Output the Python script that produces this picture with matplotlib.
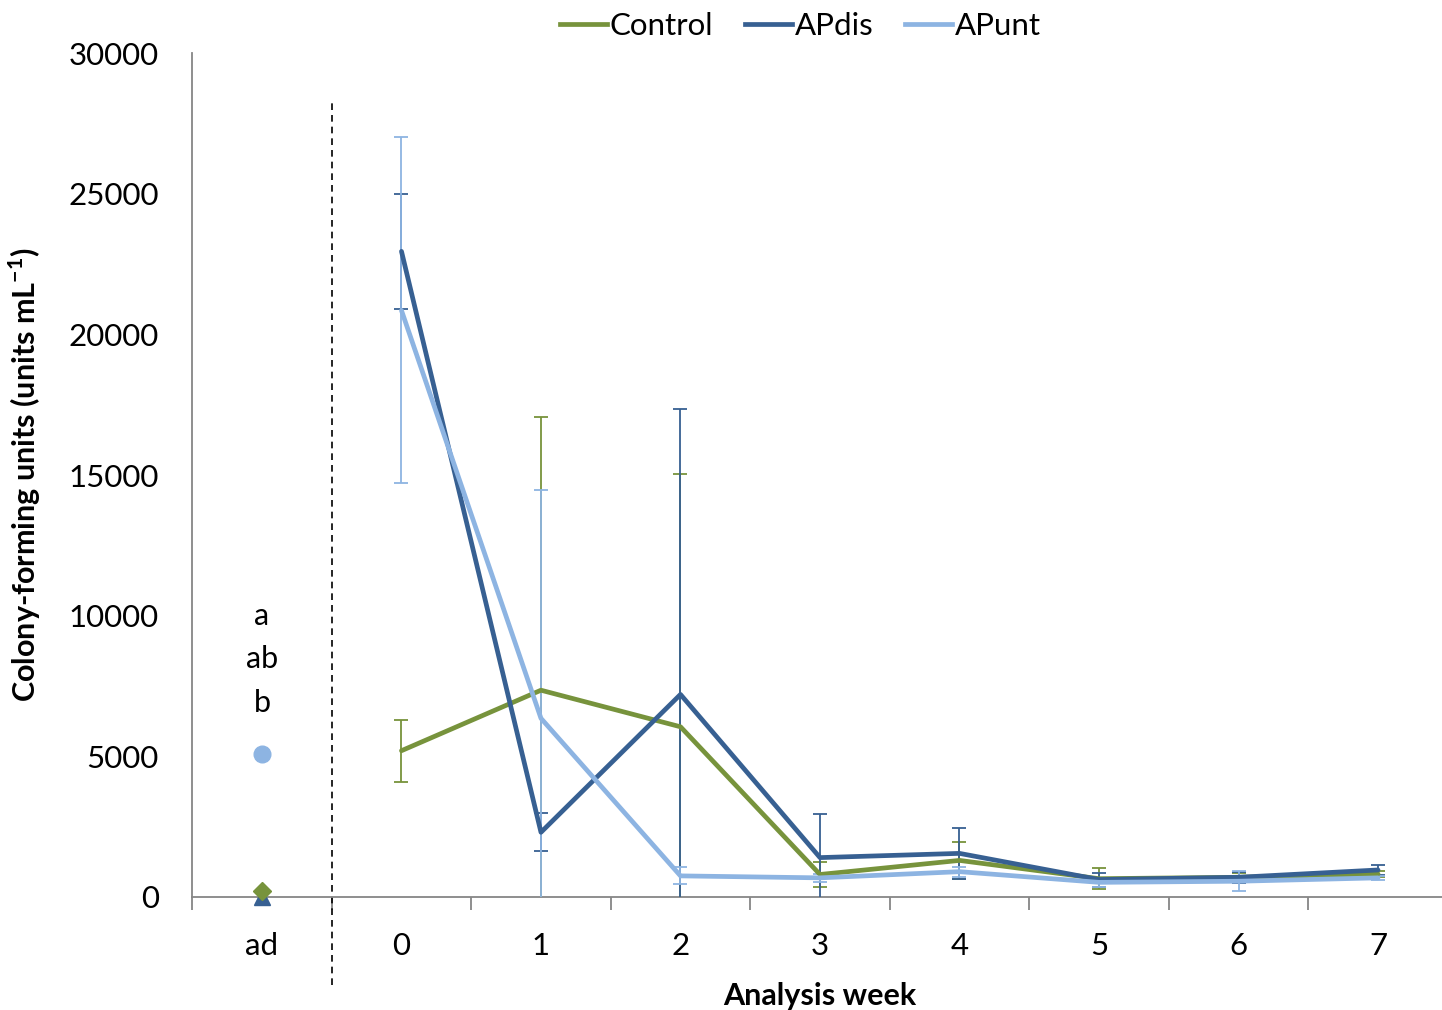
import matplotlib.pyplot as plt
import numpy as np

plt.rcParams['font.family'] = ['Lato', 'DejaVu Sans']
plt.rcParams['mathtext.fontset'] = 'custom'
plt.rcParams['mathtext.rm'] = 'Lato'
plt.rcParams['mathtext.bf'] = 'Lato:bold'

# ── Data ───────────────────────────────────────────────────────────────────────
categories = ["ad", "0", "1", "2", "3", "4", "5", "6", "7"]
weeks_idx = np.arange(1, 9)           # positions of weeks 0..7

control_mean = [5200, 7350, 6050, 800, 1300, 650, 700, 820]
control_err = [1100, 9700, 9000, 430, 650, 380, 150, 100]

apdis_mean = [22950, 2300, 7200, 1400, 1550, 620, 700, 960]
apdis_err = [2050, 680, 10150, 1550, 900, 250, 200, 170]

apunt_mean = [20850, 6350, 750, 680, 900, 520, 560, 680]
apunt_err = [6150, 8100, 300, 150, 180, 150, 350, 80]

# values at the "ad" position
ad_control = 200
ad_apdis = 0
ad_apunt = 5100

sig_letters = ["a", "ab", "b"]
sig_letter_y = [10000, 8450, 6900]

C_CONTROL = "#77933C"
C_APDIS = "#376092"
C_APUNT = "#8DB4E2"
AX_GREY = "#868686"

# ── Figure ─────────────────────────────────────────────────────────────────────
fig = plt.figure(figsize=(14.42, 10.10), dpi=100)
ax = fig.add_axes([0.1333, 0.1119, 0.8707, 0.8356])

series = [
    ("Control", control_mean, control_err, C_CONTROL),
    ("APdis", apdis_mean, apdis_err, C_APDIS),
    ("APunt", apunt_mean, apunt_err, C_APUNT),
]
for name, mean, err, col in series:
    ax.errorbar(weeks_idx, mean, yerr=err, color=col, lw=3.4,
                elinewidth=1.3, capsize=5, capthick=1.3, label=name,
                solid_capstyle="round", solid_joinstyle="round", zorder=3)

# "ad" markers
ax.plot(0, ad_apunt, "o", color=C_APUNT, ms=12, zorder=4, clip_on=False)
ax.plot(0, ad_apdis, "^", color=C_APDIS, ms=12, zorder=4, clip_on=False)
ax.plot(0, ad_control, "D", color=C_CONTROL, ms=9, zorder=5, clip_on=False)

for txt, yv in zip(sig_letters, sig_letter_y):
    ax.text(0, yv, txt, ha="center", va="center", fontsize=22)

# dashed separator between "ad" and week 0
ax.axvline(0.5, ymin=-0.104, ymax=0.944, color="black", lw=1.2,
           ls=(0, (4, 3)), clip_on=False, zorder=2)

ax.set_xlim(-0.5, 8.5)
ax.set_ylim(0, 30000)
ax.set_yticks(np.arange(0, 30001, 5000))
ax.set_xticks(np.arange(len(categories)))
ax.set_xticklabels(categories)
ax.set_xticks(np.arange(-0.5, 8.0, 1.0), minor=True)

ax.tick_params(axis="both", which="major", length=0, labelsize=22.5)
ax.tick_params(axis="x", which="major", pad=25)
ax.tick_params(axis="y", which="major", pad=24)
ax.tick_params(axis="x", which="minor", length=9, width=1.3, color=AX_GREY,
               direction="out")

for s in ["top", "right"]:
    ax.spines[s].set_visible(False)
for s in ["left", "bottom"]:
    ax.spines[s].set_color(AX_GREY)
    ax.spines[s].set_linewidth(1.3)

ax.set_xlabel("Analysis week", fontsize=22, fontweight="bold", labelpad=16)
ax.set_ylabel(r"Colony-forming units (units mL$^{\mathbf{-1}}$)", fontsize=22,
              fontweight="bold", labelpad=18)

handles, labels = ax.get_legend_handles_labels()
handles = [plt.Line2D([], [], color=c, lw=3.4) for _, _, _, c in series]
fig.legend(handles, labels, loc="upper center", bbox_to_anchor=(0.555, 1.016),
           ncol=3, frameon=False, fontsize=22.5, handlelength=1.5,
           handletextpad=0.1, columnspacing=1.0)

fig.savefig("out.png", dpi=100)
